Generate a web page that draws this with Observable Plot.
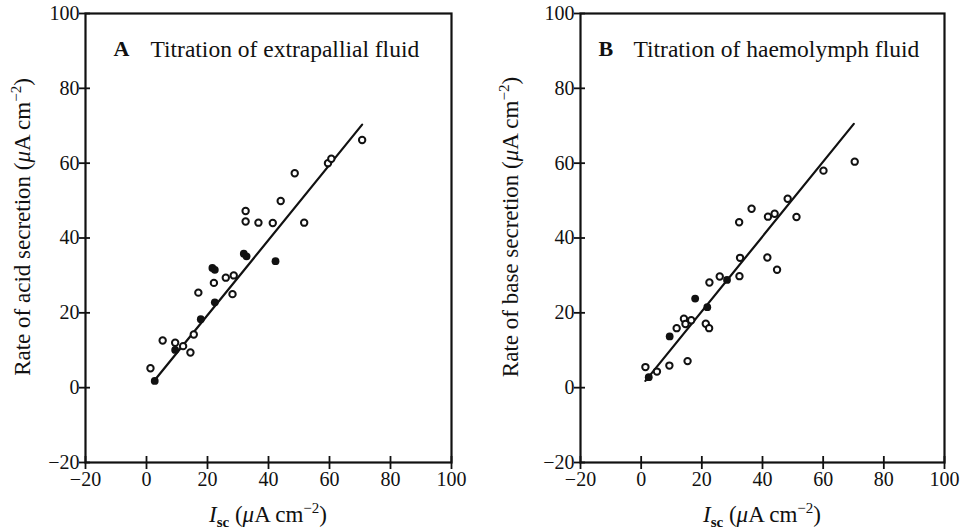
<!DOCTYPE html>
<html><head><meta charset="utf-8">
<script src="https://cdn.jsdelivr.net/npm/d3@7"></script>
<script src="https://cdn.jsdelivr.net/npm/@observablehq/plot@0.6"></script>
<style>
body{margin:0;background:#fff;}
#wrap{display:flex;width:967px;height:530px;overflow:hidden;}
</style></head><body><div id="wrap"></div>
<script>
const xTicks = [-20, 0, 20, 40, 60, 80, 100];
const yTicks = [-20, 0, 20, 40, 60, 80, 100];

const titleA = "Titration of extrapallial fluid";
const titleB = "Titration of haemolymph fluid";
const yLabelA = "Rate of acid secretion (";
const yLabelB = "Rate of base secretion (";

// Panel A: extrapallial fluid
const aOpenX = [70.7, 59.5, 60.6, 48.6, 44.0, 32.5, 32.5, 36.7, 41.4, 51.7, 26.0, 28.6, 22.1, 17.0, 28.2, 15.5, 5.3, 9.4, 12.0, 14.4, 1.3];
const aOpenY = [66.2, 60.0, 61.2, 57.3, 49.9, 47.2, 44.4, 44.1, 44.0, 44.1, 29.4, 30.0, 28.0, 25.4, 25.0, 14.2, 12.6, 12.0, 11.1, 9.4, 5.2];
const aFilledX = [31.9, 32.8, 42.3, 21.6, 22.4, 22.4, 17.8, 9.4, 2.7];
const aFilledY = [35.8, 35.1, 33.8, 32.0, 31.5, 22.8, 18.3, 10.1, 1.8];
const aLineX = [2.2, 70.7];
const aLineY = [1.5, 70.3];

// Panel B: haemolymph fluid
const bOpenX = [70.4, 60.1, 48.3, 36.4, 32.3, 41.8, 44.0, 51.2, 32.6, 41.6, 44.8, 25.9, 32.4, 22.5, 14.1, 16.5, 14.6, 11.7, 21.3, 22.4, 15.3, 1.4, 9.3, 5.2];
const bOpenY = [60.4, 58.0, 50.5, 47.8, 44.2, 45.7, 46.5, 45.6, 34.7, 34.8, 31.5, 29.7, 29.8, 28.1, 18.4, 18.0, 17.0, 15.9, 17.1, 15.9, 7.1, 5.5, 5.9, 4.3];
const bFilledX = [28.3, 17.8, 21.8, 9.4, 2.5];
const bFilledY = [28.8, 23.8, 21.5, 13.7, 2.8];
const bLineX = [1.4, 70.1];
const bLineY = [1.8, 70.5];

const FONT = "'Liberation Serif', 'Times New Roman', serif";

function zip(xs, ys) { return xs.map((x, i) => ({x, y: ys[i]})); }

function panel(cfg) {
  const height = 530, marginTop = 13, marginBottom = 68;
  const plot = Plot.plot({
    width: cfg.width, height,
    marginLeft: cfg.marginLeft, marginRight: cfg.marginRight,
    marginTop, marginBottom,
    x: {domain: [-20, 100]},
    y: {domain: [-20, 100]},
    style: {fontFamily: FONT, fontSize: "20px", color: "#111", background: "#fff"},
    marks: [
      Plot.frame({stroke: "#111", strokeWidth: 2.2}),
      Plot.axisY(yTicks, {tickSize: 11, dx: 5, fill: "none", label: null, stroke: "#111", strokeWidth: 1.8}),
      Plot.axisY(yTicks, {tickSize: 0, tickPadding: 6, label: null, fontSize: 20}),
      Plot.axisX(xTicks, {tickSize: 13, dy: -6, fill: "none", label: null, stroke: "#111", strokeWidth: 1.8}),
      Plot.axisX(xTicks, {tickSize: 0, tickPadding: 9, label: null, fontSize: 20}),
      Plot.line(zip(cfg.lineX, cfg.lineY), {x: "x", y: "y", stroke: "#111", strokeWidth: 2.2}),
      Plot.dot(zip(cfg.openX, cfg.openY), {x: "x", y: "y", r: 3.2, stroke: "#111", strokeWidth: 2, fill: "white"}),
      Plot.dot(zip(cfg.filledX, cfg.filledY), {x: "x", y: "y", r: 3.9, fill: "#111"}),
      Plot.text([cfg.letter], {frameAnchor: "top-left", dx: cfg.letterDx, dy: 27, text: d => d, textAnchor: "start", fontSize: 22, fontWeight: "bold", fill: "#111"}),
      Plot.text([cfg.title], {frameAnchor: "top-left", dx: cfg.titleDx, dy: 27, text: d => d, textAnchor: "start", fontSize: 23.5, fill: "#111"})
    ]
  });
  const svg = d3.select(plot);
  const plotW = cfg.width - cfg.marginLeft - cfg.marginRight;
  // y label with superscript
  const yl = svg.append("text")
    .attr("transform", `translate(${cfg.yLabelX},${cfg.yLabelY}) rotate(-90)`)
    .attr("text-anchor", "middle")
    .style("font-family", FONT).style("font-size", "23px").attr("fill", "#111");
  yl.append("tspan").text(cfg.yLabel);
  yl.append("tspan").attr("font-style", "italic").text("μ");
  yl.append("tspan").text("A cm");
  yl.append("tspan").attr("dy", -9).style("font-size", "15px").text("−2");
  yl.append("tspan").attr("dy", 9).text(")");
  // x label
  const xl = svg.append("text")
    .attr("x", cfg.marginLeft + plotW / 2).attr("y", 522)
    .attr("text-anchor", "middle")
    .style("font-family", FONT).style("font-size", "23px").attr("fill", "#111");
  xl.append("tspan").attr("font-style", "italic").text("I");
  xl.append("tspan").attr("dy", 5).style("font-size", "15px").attr("font-weight", "bold").text("sc");
  xl.append("tspan").attr("dy", -5).text(" (");
  xl.append("tspan").attr("font-style", "italic").text("μ");
  xl.append("tspan").text("A cm");
  xl.append("tspan").attr("dy", -9).style("font-size", "15px").text("−2");
  xl.append("tspan").attr("dy", 9).text(")");
  return plot;
}

const wrap = document.getElementById("wrap");
wrap.appendChild(panel({
  width: 483, marginLeft: 85, marginRight: 32,
  letter: "A", title: titleA, letterDx: 28, titleDx: 65,
  yLabel: yLabelA, yLabelX: 30, yLabelY: 227,
  openX: aOpenX, openY: aOpenY, filledX: aFilledX, filledY: aFilledY,
  lineX: aLineX, lineY: aLineY
}));
wrap.appendChild(panel({
  width: 484, marginLeft: 97, marginRight: 23,
  letter: "B", title: titleB, letterDx: 18, titleDx: 53,
  yLabel: yLabelB, yLabelX: 35, yLabelY: 227,
  openX: bOpenX, openY: bOpenY, filledX: bFilledX, filledY: bFilledY,
  lineX: bLineX, lineY: bLineY
}));
</script>
</body></html>
